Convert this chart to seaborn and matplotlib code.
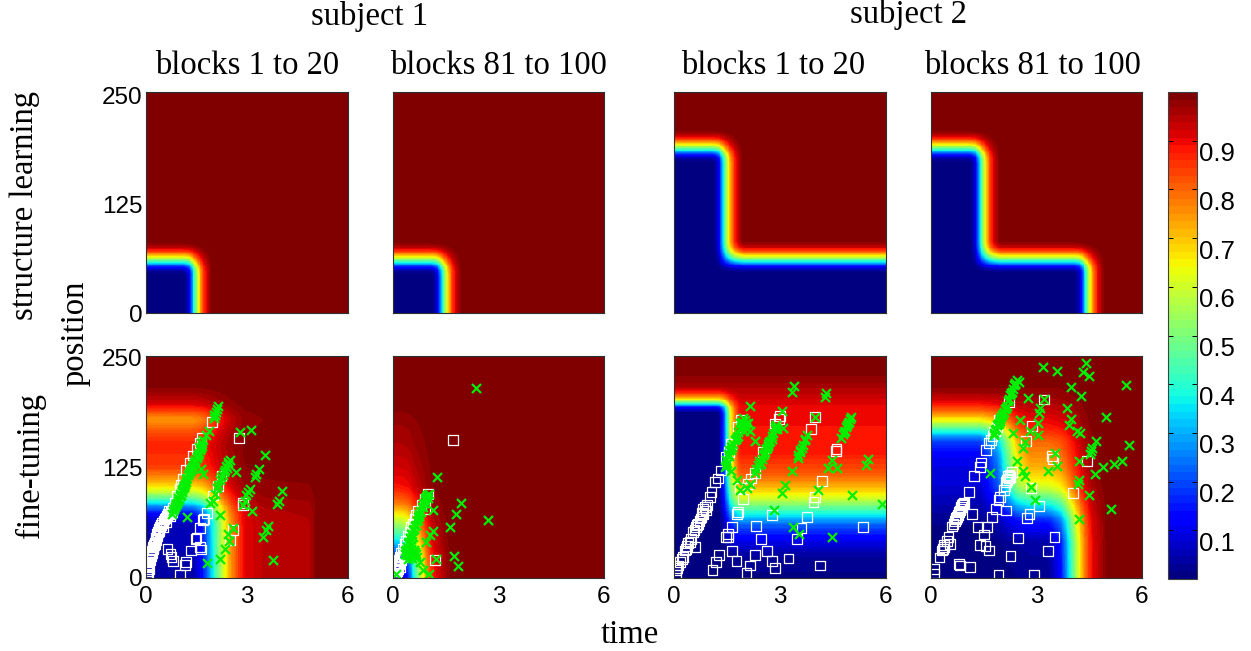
import numpy as np
import pandas as pd
import matplotlib
matplotlib.use("Agg")
import matplotlib.pyplot as plt
from matplotlib.transforms import ScaledTranslation
import seaborn as sns

W, H = 1251, 651
SERIF = "Liberation Serif"
SANS = "Liberation Sans"
plt.rcParams["font.family"] = SANS

# ---- text
subjects = ["subject 1", "subject 2"]
block_titles = ["blocks 1 to 20", "blocks 81 to 100", "blocks 1 to 20", "blocks 81 to 100"]
row_titles = ["structure learning", "fine-tuning"]
x_ticks = [0, 3, 6]
y_ticks = [0, 125, 250]
cbar_ticks = [0.1, 0.2, 0.3, 0.4, 0.5, 0.6, 0.7, 0.8, 0.9]

# ---- sharp edge profile of the upper panels (offset from edge centre -> value)
edge_t_off = [-0.42, -0.24, -0.14, 0.0, 0.1, 0.22, 0.42]
edge_t_val = [0.0, 0.1, 0.38, 0.62, 0.78, 0.9, 1.0]
edge_p_off = [-18, -11.5, -6, 0, 4, 8.5, 16]
edge_p_val = [0.0, 0.1, 0.38, 0.62, 0.77, 0.9, 1.0]

# upper panels: corners (time, position) of the low regions
corners_1 = [(1.55, 63)]
corners_2 = [(1.53, 63)]
corners_3 = [(1.53, 190), (99.0, 64)]
corners_4 = [(1.53, 190), (4.52, 64)]

# ---- lower panels: value profiles read along the axes
p5_pos = [0, 60, 70, 78, 87, 95, 100, 110, 125, 150, 165, 178, 185, 196, 215, 250]
p5_pos_v = [0.02, 0.04, 0.09, 0.2, 0.4, 0.55, 0.63, 0.73, 0.84, 0.87, 0.82, 0.74, 0.8, 0.92, 0.99, 1.0]
p5_time = [0, 1.4, 1.7, 1.9, 2.05, 2.2, 2.34, 2.54, 2.9, 3.5, 4.9, 5.1, 6]
p5_time_v = [0.01, 0.02, 0.12, 0.28, 0.4, 0.52, 0.63, 0.75, 0.9, 0.94, 0.95, 1.0, 1.0]

p6_pos = [0, 15, 30, 46, 58, 70, 84, 102, 125, 150, 175, 200, 250]
p6_pos_v = [0.03, 0.08, 0.2, 0.38, 0.5, 0.62, 0.77, 0.88, 0.92, 0.95, 0.97, 1.0, 1.0]
p6_time = [0, 0.28, 0.47, 0.6, 0.85, 1.0, 1.14, 1.57, 1.8, 6]
p6_time_v = [0.02, 0.05, 0.15, 0.38, 0.62, 0.78, 0.88, 0.98, 1.0, 1.0]

p7_band_pos = [0, 25, 42, 61, 74, 82, 91, 106, 117, 140, 170, 193, 205, 219, 235, 250]
p7_band_v = [0.01, 0.03, 0.1, 0.23, 0.4, 0.5, 0.62, 0.74, 0.81, 0.88, 0.89, 0.9, 0.93, 0.97, 1.0, 1.0]
p7_rect_pos = [0, 186, 192, 196, 200, 204, 211, 216, 250]
p7_rect_pos_v = [0.0, 0.0, 0.12, 0.4, 0.66, 0.82, 0.96, 1.0, 1.0]
p7_rect_time = [0, 1.28, 1.4, 1.5, 1.58, 1.7, 1.85, 6]
p7_rect_time_v = [0.0, 0.0, 0.2, 0.42, 0.68, 0.85, 1.0, 1.0]

p8_low_pos = [0, 40, 65, 84, 102, 117, 125, 155, 170, 204, 225, 250]
p8_low_pos_v = [0.01, 0.03, 0.15, 0.38, 0.6, 0.68, 0.72, 0.8, 0.88, 0.97, 1.0, 1.0]
p8_low_time = [0, 3.35, 3.7, 3.96, 4.2, 4.34, 4.58, 5.05, 6]
p8_low_time_v = [0.0, 0.01, 0.12, 0.38, 0.62, 0.75, 0.9, 1.0, 1.0]
p8_high_pos = [0, 125, 136, 155, 165, 178, 185, 195, 211, 250]
p8_high_pos_v = [0.12, 0.13, 0.14, 0.25, 0.45, 0.72, 0.82, 0.93, 1.0, 1.0]
p8_high_time = [0, 1.4, 1.92, 2.1, 2.45, 2.8, 6]
p8_high_time_v = [0.0, 0.0, 0.25, 0.47, 0.86, 1.0, 1.0]

# ---- responses (time, position)
squares_5 = [(0.05,5),(0.05,12),(0.07,18),(0.1,22),(0.13,27),(0.17,31),(0.2,35),(0.25,40),(0.28,45),(0.32,50),(0.38,55),(0.42,58),(0.48,62),(0.55,66),(0.62,70),(0.7,72),(0.75,76),(0.85,85),(0.92,92),(1.0,100),(1.05,105),(1.1,112),(1.2,122),(1.3,130),(1.4,138),(1.5,145),(1.6,152),(1.65,158),(1.95,176),
 (0.64,33),(0.73,27),(0.76,24),(0.79,19),(1.0,4),(1.16,15),(1.2,18),(1.33,31),(1.63,32),(1.6,35),(1.47,44),(1.5,45),(1.6,56),(1.7,65),(1.72,66),(1.82,73),(2.0,93),(2.14,104),(2.24,115),(2.76,158),(2.89,82),(2.89,84),(2.59,54),(2.49,43),
 (0.02,2),(0.03,8),(0.06,15),(0.08,10),(0.12,20),(0.15,25),(0.18,28),(0.22,33),(0.24,37),(0.27,38),(0.3,43),(0.34,47),(0.36,52),(0.4,53),(0.45,60),(0.5,57),(0.52,64),(0.58,68),(0.6,63),(0.65,72),(0.68,75),(0.72,70),(0.8,79),(0.78,74)]
crosses_5 = [(2.14,194),(2.07,187),(2.02,184),(1.88,166),(1.78,161),(1.65,149),(1.6,144),(1.62,152),(1.55,138),(1.5,135),(1.45,131),(1.4,127),(1.35,123),(1.3,120),(1.25,116),(1.2,111),(1.16,106),(1.1,101),(1.06,97),(1.0,92),(0.96,87),(0.9,83),(0.86,80),(0.76,72),
 (1.23,69),(1.63,123),(1.68,117),(2.79,164),(3.11,167),(3.53,138),(2.67,119),(2.49,133),(2.44,131),(2.39,126),(2.32,119),(2.24,114),(2.1,101),(2.0,87),(1.9,84),(3.35,123),(3.26,117),(3.23,114),(3.08,100),(3.03,97),(2.98,93),(2.93,87),(2.89,82),(4.05,98),(3.94,87),(3.89,83),(3.15,75),(2.19,71),(3.63,59),(3.56,54),(3.48,46),(2.59,56),(2.44,50),(2.47,42),(2.34,33),(2.19,21),(1.8,17),(3.77,20),
 (0.8,76),(0.82,78),(0.88,82),(0.92,85),(0.94,90),(0.98,89),(1.02,95),(1.04,93),(1.08,99),(1.12,103),(1.14,104),(1.18,108),(1.22,113),(1.27,118),(1.32,121),(1.37,125),(1.42,129),(1.47,133),(1.52,136),(1.57,141),(1.58,148),(1.63,146),(1.67,152),(1.7,155),(2.05,183),(2.1,190),(2.03,180),
 (2.45,128),(2.42,124),(2.36,122),(2.28,116),(2.2,110),(2.15,105),(2.05,95)]

squares_6 = [(0.03,2),(0.05,6),(0.08,10),(0.1,12),(0.13,16),(0.16,20),(0.19,24),(0.23,28),(0.28,33),(0.33,38),(0.38,42),(0.42,47),(0.47,52),(0.52,57),(0.57,61),(0.62,66),(0.66,71),(0.72,76),(0.81,82),(0.9,89),(1.0,95),(0.9,78),(1.71,155),(1.19,20),
 (0.02,8),(0.06,14),(0.12,8),(0.15,14),(0.18,16),(0.22,20),(0.25,23),(0.27,28),(0.3,26),(0.35,31),(0.06,2),(0.1,4),(0.14,10),(0.2,12)]
crosses_6 = [(2.37,214),(1.25,114),(1.93,84),(1.79,72),(1.61,57),(2.71,65),(1.14,53),(1.06,48),(0.95,41),(1.14,77),(1.73,25),(1.85,13),(1.22,21),(1.03,95),(0.76,18),(0.84,9),(1.02,5),(0.09,4),
 (0.95,91),(0.9,88),(0.85,84),(0.82,80),(0.78,76),(0.75,72),(0.71,69),(0.67,64),(0.62,59),(0.57,54),(0.52,50),(0.48,45),(0.43,39),(0.4,35),(0.38,31),(0.47,24),(0.62,29),(0.33,27),(0.52,33),(0.55,22),(0.42,21),(0.68,24),
 (0.6,55),(0.65,60),(0.7,65),(0.73,70),(0.8,74),(0.84,80),(0.88,85),(0.92,90),(0.97,93),(1.0,90),(0.55,50),(0.5,44),(0.58,46),(0.45,40),(0.42,32),(0.35,30),(0.5,28),(0.45,26),(0.6,32),(0.65,27),(0.4,26),(0.55,38)]

squares_7 = [(0.07,3),(0.07,9),(0.11,14),(0.26,24),(0.3,31),(0.4,39),(0.49,44),(0.59,35),(0.53,52),(0.68,61),(0.78,69),(0.82,78),(0.87,80),(0.64,60),(0.8,73),(1.01,91),(1.06,97),(1.15,108),(1.25,112),(1.34,121),(1.48,136),(1.55,142),(1.62,151),(1.81,170),(1.9,178),
 (1.96,89),(1.86,101),(2.1,106),(2.19,112),(2.29,118),(2.52,142),(2.85,174),(2.98,179),(3.0,182),(1.79,72),(1.82,74),(1.64,57),(1.53,50),(1.48,46),(1.53,46),(1.65,30),(1.77,19),(1.28,26),(1.2,18),(1.09,9),(2.05,6),(2.15,14),(2.29,26),(2.64,30),(2.78,19),(2.87,11),(3.24,22),(4.13,14),(2.46,44),(2.33,59),(2.77,71),(3.76,69),(3.61,56),(3.48,44),(5.34,57),(3.95,86),(3.99,91),(4.2,109),(4.58,143),(4.6,145),(3.87,168),(4.0,181),
 (0.1,11),(0.17,18),(0.22,21),(0.33,33),(0.37,36),(0.45,41),(0.58,54),(0.62,57),(0.72,64),(0.75,67),(0.83,72),(0.9,76),(0.93,82)]
crosses_7 = [(2.0,178),(1.96,172),(2.05,170),(1.86,168),(2.1,174),(1.92,176),(1.98,165),(1.77,159),(1.72,155),(1.62,148),(1.57,144),(1.53,140),(1.48,133),(1.44,125),(1.62,121),(1.77,110),(1.86,99),(2.15,194),(2.15,166),(2.29,154),
 (3.07,188),(3.09,169),(2.85,168),(2.9,172),(2.76,157),(2.72,154),(2.67,151),(2.62,146),(2.57,142),(2.52,138),(2.48,134),(2.43,130),(2.38,127),(2.29,118),(2.15,106),(2.07,101),(3.4,216),(3.34,209),(4.29,208),(4.27,204),(3.99,181),
 (3.75,161),(3.7,155),(3.61,146),(3.56,142),(3.5,135),(3.33,121),(3.14,105),(3.07,96),(4.98,179),(4.95,176),(4.93,174),(4.88,170),(4.84,166),(4.79,162),(4.74,158),(4.48,133),(4.37,124),(4.62,124),(4.08,99),(5.5,134),(5.42,127),(5.03,94),(5.88,83),(2.84,77),(3.36,57),(3.54,50),(4.48,46),
 (1.9,170),(1.95,180),(1.88,174),(2.03,175),(2.07,168),(1.82,164),(1.8,160),(1.75,157),(1.68,151),(1.65,147),(1.6,144),(1.55,137),(1.5,129),(1.47,127),(2.45,128),(2.4,132),(2.33,123),(2.55,140),(2.6,145),(2.65,149),(2.7,153),(2.78,160),(2.8,163),(2.87,170),(2.92,168),(3.72,157),(3.65,150),(3.58,144),(3.52,138),(5.0,181),(4.9,172),(4.82,164)]

squares_8 = [(0.1,5),(0.1,10),(0.24,23),(0.31,31),(0.36,37),(0.5,46),(0.45,42),(0.55,38),(0.64,61),(0.68,64),(0.74,69),(0.77,71),(0.79,74),(0.84,78),(0.88,82),(0.93,84),(1.07,97),(1.23,115),(1.4,125),(1.42,130),(1.57,144),(1.66,152),(1.83,166),(1.87,170),(1.92,178),(2.21,198),
 (0.79,16),(0.83,14),(1.12,12),(1.92,4),(2.94,3),(2.26,25),(3.32,30),(2.47,45),(3.51,46),(1.64,31),(1.55,36),(1.4,37),(1.5,49),(1.33,57),(1.59,57),(1.17,72),(1.73,69),(2.13,76),(2.73,68),(2.8,72),(3.06,81),(1.85,78),(1.92,88),(1.97,91),(2.07,99),(2.13,108),(2.21,112),(2.25,114),(2.3,119),(2.84,101),(4.03,96),(4.44,132),(3.46,134),(3.45,137),(2.7,154),(2.87,171),(3.22,201),
 (0.6,58),(0.7,66),(0.72,68),(0.82,76),(0.86,80),(0.9,83),(0.38,35),(0.33,33),(1.75,160),(1.8,164),(1.7,155),(2.17,110),(2.19,115),(2.23,116),(2.12,103)]
crosses_8 = [(3.18,238),(3.57,233),(4.42,242),(4.32,232),(4.49,227),(3.97,215),(4.27,205),(5.55,217),(2.49,221),(2.4,220),(2.35,217),(2.3,210),(2.26,206),(2.2,199),(2.16,194),(2.76,203),(3.2,202),(3.11,191),(3.06,186),(3.87,191),(2.07,187),(2.02,183),(1.97,179),(1.92,175),(1.88,172),(1.83,167),(1.78,161),(2.54,178),(2.33,163),(3.03,174),(2.82,166),(3.04,161),(3.98,179),(3.91,172),(4.15,166),(4.23,163),(4.98,181),(2.66,153),(2.61,146),(4.69,154),(4.58,146),(4.55,143),(4.53,140),(5.64,150),(3.54,141),(2.44,132),(4.2,132),(3.57,126),(3.32,120),(5.43,132),(5.19,128),(4.88,125),(4.67,117),(1.69,118),(2.63,121),(2.68,115),(2.84,102),(2.97,88),(4.2,110),(4.18,106),(4.48,93),(5.12,78),(4.21,67),
 (1.8,163),(1.85,168),(1.9,173),(1.95,177),(2.0,181),(2.05,185),(2.1,190),(2.13,192),(2.23,202),(2.28,208),(2.33,213),(2.38,218),(2.45,223)]

# ---- geometry in reference pixels
col_px = [(146, 348), (393, 604), (674, 886), (931, 1142)]
row_px = [(92, 313), (356, 578)]
cbar_px = (1168, 1197, 92, 579)
ylabel_drop_px = [(1, 2.5, 4), (0, 1, 2)]

N = 260
t_grid = (np.arange(N) + 0.5) * 6 / N
p_grid = (np.arange(N) + 0.5) * 250 / N
T, P = np.meshgrid(t_grid, p_grid)


def smooth(a, k=7):
    kern = np.ones(k) / k
    pad = k // 2
    b = np.pad(a, pad, mode="edge")
    b = np.apply_along_axis(lambda r: np.convolve(r, kern, mode="valid"), 0, b)
    b = np.apply_along_axis(lambda r: np.convolve(r, kern, mode="valid"), 1, b)
    return b


def outside(tx, tv, px, pv):
    f = np.interp(T, tx, tv)
    g = np.interp(P, px, pv)
    return 1 - (1 - f) * (1 - g)


def staircase(corners):
    z = np.ones_like(T)
    for ct, cp in corners:
        f = np.interp(T - ct, edge_t_off, edge_t_val)
        g = np.interp(P - cp, edge_p_off, edge_p_val)
        z = z * (1 - (1 - f) * (1 - g))
    return z


fields = [
    staircase(corners_1), staircase(corners_2), staircase(corners_3), staircase(corners_4),
    outside(p5_time, p5_time_v, p5_pos, p5_pos_v),
    outside(p6_time, p6_time_v, p6_pos, p6_pos_v),
    np.interp(P, p7_band_pos, p7_band_v) * outside(p7_rect_time, p7_rect_time_v, p7_rect_pos, p7_rect_pos_v),
    outside(p8_low_time, p8_low_time_v, p8_low_pos, p8_low_pos_v) * outside(p8_high_time, p8_high_time_v, p8_high_pos, p8_high_pos_v),
]
fields = [smooth(f) for f in fields]
marks = [None] * 4 + [(squares_5, crosses_5), (squares_6, crosses_6), (squares_7, crosses_7), (squares_8, crosses_8)]

cmap = plt.get_cmap("jet", 64)
fig = plt.figure(figsize=(W / 100, H / 100), dpi=100)
fig.patch.set_facecolor("white")


def box(x0, x1, y0, y1):
    return [x0 / W, 1 - y1 / H, (x1 - x0) / W, (y1 - y0) / H]


cax = fig.add_axes(box(cbar_px[0], cbar_px[1], cbar_px[2], cbar_px[3]))
cb = None

for i, field in enumerate(fields):
    r, c = i // 4, i % 4
    pos = box(col_px[c][0], col_px[c][1], row_px[r][0], row_px[r][1])
    hax = fig.add_axes(pos)
    last = i == len(fields) - 1
    sns.heatmap(field, ax=hax, cmap=cmap, vmin=0, vmax=1, xticklabels=False, yticklabels=False,
                cbar=last, cbar_ax=cax if last else None,
                cbar_kws={"ticks": cbar_ticks} if last else None, rasterized=True)
    if last:
        cb = hax.collections[0].colorbar
    hax.set_ylim(0, N)
    hax.set_xlim(0, N)
    hax.set_axis_off()

    ax = fig.add_axes(pos, zorder=3)
    ax.patch.set_alpha(0)
    if marks[i] is not None:
        sq = pd.DataFrame(marks[i][0], columns=["time", "position"])
        cr = pd.DataFrame(marks[i][1], columns=["time", "position"])
        sns.scatterplot(data=sq, x="time", y="position", ax=ax, marker="s", s=50,
                        facecolor="none", edgecolor="white", linewidth=0.9, clip_on=True, legend=False)
        sns.scatterplot(data=cr, x="time", y="position", ax=ax, marker="x", s=42,
                        color="#00f000", linewidth=1.6, clip_on=True, legend=False)
    ax.set_xlim(0, 6)
    ax.set_ylim(0, 250)
    ax.set_xlabel("")
    ax.set_ylabel("")
    ax.tick_params(axis="y", length=0, labelsize=17.5, pad=2.5)
    ax.tick_params(axis="x", length=0, labelsize=17.5, pad=6)
    if r == 1:
        ax.set_xticks(x_ticks)
    else:
        ax.set_xticks([])
    if c == 0:
        ax.set_yticks(y_ticks)
        for lab, drop in zip(ax.get_yticklabels(), ylabel_drop_px[r]):
            lab.set_transform(lab.get_transform() + ScaledTranslation(0, -drop / 100, fig.dpi_scale_trans))
    else:
        ax.set_yticks([])
    for s in ax.spines.values():
        s.set_linewidth(0.8)
        s.set_color("#303030")

# colour bar
cb.outline.set_visible(True)
cb.outline.set_linewidth(0.8)
cb.outline.set_edgecolor("#404040")
cax.tick_params(direction="in", left=True, right=True, length=3.5, width=0.7, labelsize=18.5, pad=1.5, colors="black")
for lab in cax.get_yticklabels():
    lab.set_transform(lab.get_transform() + ScaledTranslation(0, -11 / 100, fig.dpi_scale_trans))


def label(x, y, s, rotation=0):
    fig.text(x / W, 1 - y / H, s, family=SERIF, fontsize=23.5, ha="center", va="baseline", rotation=rotation)


def vlabel(x, y, s):
    fig.text(x / W, 1 - y / H, s, family=SERIF, fontsize=23.5, ha="center", va="center", rotation=90)


label(370, 25, subjects[0])
label(909, 23, subjects[1])
for xc, s in zip([247, 498.5, 773, 1033], block_titles):
    label(xc, 74, s)
vlabel(25, 205, row_titles[0])
vlabel(30, 465, row_titles[1])
vlabel(75, 333, "position")
label(630, 643, "time")

fig.savefig("out.png", dpi=100)
